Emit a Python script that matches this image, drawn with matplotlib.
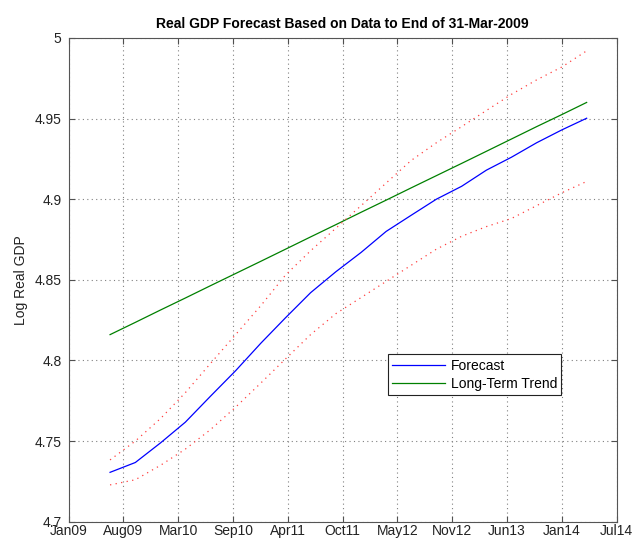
import matplotlib
matplotlib.use("Agg")
import matplotlib.pyplot as plt
import matplotlib.dates as mdates
import numpy as np
import pandas as pd

plt.rcParams['font.family'] = ['Liberation Sans', 'DejaVu Sans']

dates = pd.to_datetime([
    "2009-06-30", "2009-09-30", "2009-12-31", "2010-03-31", "2010-06-30",
    "2010-09-30", "2010-12-31", "2011-03-31", "2011-06-30", "2011-09-30",
    "2011-12-31", "2012-03-31", "2012-06-30", "2012-09-30", "2012-12-31",
    "2013-03-31", "2013-06-30", "2013-09-30", "2013-12-31", "2014-03-31",
])
forecast = [4.7306, 4.7367, 4.7489, 4.7617, 4.7777, 4.7936, 4.8107, 4.8265,
            4.8420, 4.8550, 4.8670, 4.8800, 4.8900, 4.9000, 4.9080, 4.9180,
            4.9260, 4.9350, 4.9430, 4.9502]
trend = [4.8160, 4.8236, 4.8313, 4.8387, 4.8463, 4.8539, 4.8615, 4.8690,
         4.8766, 4.8842, 4.8919, 4.8994, 4.9070, 4.9146, 4.9222, 4.9297,
         4.9373, 4.9450, 4.9525, 4.9600]
upper = [4.7383, 4.7500, 4.7640, 4.7800, 4.7980, 4.8160, 4.8340, 4.8530,
         4.8680, 4.8820, 4.8960, 4.9100, 4.9240, 4.9350, 4.9450, 4.9550,
         4.9650, 4.9740, 4.9820, 4.9920]
lower = [4.7228, 4.7260, 4.7350, 4.7450, 4.7570, 4.7710, 4.7860, 4.8010,
         4.8160, 4.8290, 4.8390, 4.8490, 4.8590, 4.8690, 4.8770, 4.8830,
         4.8880, 4.8960, 4.9040, 4.9110]

xtick_labels = ["Jan09", "Aug09", "Mar10", "Sep10", "Apr11", "Oct11",
                "May12", "Nov12", "Jun13", "Jan14", "Jul14"]
yticks = [4.7, 4.75, 4.8, 4.85, 4.9, 4.95, 5.0]
ytick_labels = ["4.7", "4.75", "4.8", "4.85", "4.9", "4.95", "5"]

fig = plt.figure(figsize=(6.35, 5.42), dpi=100)
ax = fig.add_axes([0.108, 0.0375, 0.863, 0.8925])

ax.plot(dates, forecast, color='#0000ff', lw=0.9, label='Forecast')
ax.plot(dates, trend, color='#008000', lw=0.9, label='Long-Term Trend')
ax.plot(dates, upper, color='#ff4040', lw=0.9, ls=(0, (1, 3.5)))
ax.plot(dates, lower, color='#ff4040', lw=0.9, ls=(0, (1, 3.5)))

x0 = mdates.date2num(pd.Timestamp("2009-01-30"))
x1 = mdates.date2num(pd.Timestamp("2014-07-18"))
ax.set_xlim(x0, x1)
ax.set_ylim(4.7, 5.0)
ax.set_xticks(np.linspace(x0, x1, len(xtick_labels)))
ax.set_xticklabels(xtick_labels)
ax.set_yticks(yticks)
ax.set_yticklabels(ytick_labels)

ax.grid(True, color='#808080', ls=(0, (1, 3)), lw=0.8)
ax.tick_params(direction='in', top=True, right=True, labelsize=10,
               length=4, colors='#505050', labelcolor='#222222')
ax.tick_params(axis='x', pad=1.5)
ax.tick_params(axis='y', pad=5)
for s in ax.spines.values():
    s.set_color('#555555')
    s.set_linewidth(0.8)

ax.set_ylabel("Log Real GDP", fontsize=10, color='#222222', labelpad=5)
ax.set_title("Real GDP Forecast Based on Data to End of 31-Mar-2009",
             fontsize=10, fontweight='bold', pad=7)

leg = ax.legend(loc='lower left', bbox_to_anchor=(0.583, 0.262),
                borderaxespad=0, fancybox=False, edgecolor='#222222',
                fontsize=10, handlelength=3.8, framealpha=1,
                borderpad=0.3, labelspacing=0.3, handletextpad=0.4)
leg.get_frame().set_linewidth(0.8)

fig.savefig("out.png", dpi=100)
